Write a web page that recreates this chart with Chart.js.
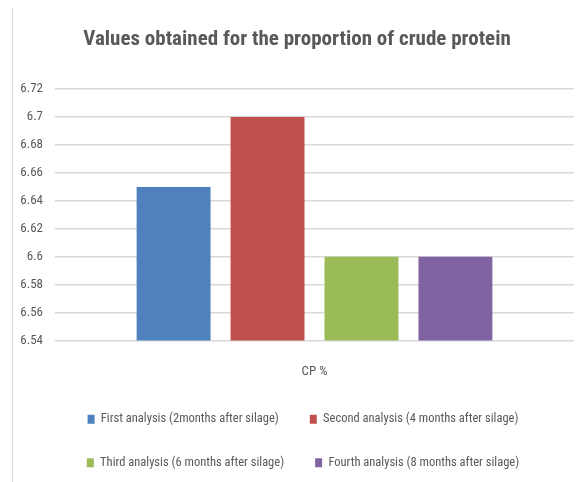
<!DOCTYPE html>
<html>
<head>
<meta charset="utf-8">
<script src="https://cdn.jsdelivr.net/npm/chart.js@4.4.0/dist/chart.umd.min.js"></script>
<style>
  html, body { margin: 0; padding: 0; background: #fff; }
  #wrap { position: relative; width: 582px; height: 482px; }
  #edge { position: absolute; left: 12px; top: 8px; bottom: 0; border-left: 1px solid #d9d9d9; }
</style>
</head>
<body>
<div id="wrap">
  <div id="edge"></div>
  <canvas id="cpChart" width="582" height="482"></canvas>
</div>
<script>
// categories and series
const categories = ["CP %"]
const seriesNames = [
  "First analysis (2months after silage)",
  "Second analysis (4 months after silage)",
  "Third analysis (6 months after silage)",
  "Fourth analysis (8 months after silage)",
]
const seriesValues = [6.65, 6.7, 6.6, 6.6]
const seriesColors = ["#4f81bd", "#c0504d", "#9bbb59", "#8064a2"]

// y axis ticks
const yTicks = [6.54, 6.56, 6.58, 6.6, 6.62, 6.64, 6.66, 6.68, 6.7, 6.72]

const narrowFont = "'Roboto Condensed', 'Open Sans Condensed', sans-serif"
const textColor = "#595959"

const datasets = seriesNames.map((name, i) => ({
  label: name,
  data: [seriesValues[i]],
  backgroundColor: seriesColors[i],
  borderWidth: 0,
  categoryPercentage: 0.724,
  barPercentage: 0.787,
}))

// legend sits a bit right of the plot centre in the original
const shiftLegend = {
  id: "shiftLegend",
  afterLayout(chart) {
    if (chart.legend) {
      chart.legend.left += 6
      chart.legend.right += 6
    }
  },
}

new Chart(document.getElementById("cpChart"), {
  type: "bar",
  data: { labels: categories, datasets },
  options: {
    responsive: false,
    animation: false,
    layout: { padding: { left: 20, right: 8, top: 0, bottom: 3 } },
    plugins: {
      title: {
        display: true,
        text: "Values obtained for the proportion of crude protein",
        color: textColor,
        font: { family: narrowFont, size: 21, weight: "bold" },
        padding: { top: 27, bottom: 37 },
      },
      legend: {
        position: "bottom",
        labels: {
          color: textColor,
          font: { family: narrowFont, size: 12.5 },
          boxWidth: 7,
          boxHeight: 9,
          padding: 31,
        },
      },
      tooltip: { enabled: false },
    },
    scales: {
      x: {
        grid: { display: false, drawTicks: false },
        border: { display: false },
        ticks: { color: textColor, font: { family: narrowFont, size: 13 }, padding: 24 },
        afterFit: (axis) => { axis.height -= 22 },
      },
      y: {
        min: yTicks[0],
        max: yTicks[yTicks.length - 1],
        afterBuildTicks: (axis) => { axis.ticks = yTicks.map((v) => ({ value: v })) },
        afterFit: (axis) => { axis.width = 35 },
        ticks: {
          color: textColor,
          font: { family: narrowFont, size: 13 },
          padding: 12,
          callback: (v) => String(Number(v.toFixed(2))),
        },
        grid: { color: "#d9d9d9", lineWidth: 1.5, drawTicks: false },
        border: { display: false },
      },
    },
  },
  plugins: [shiftLegend],
})
</script>
</body>
</html>
